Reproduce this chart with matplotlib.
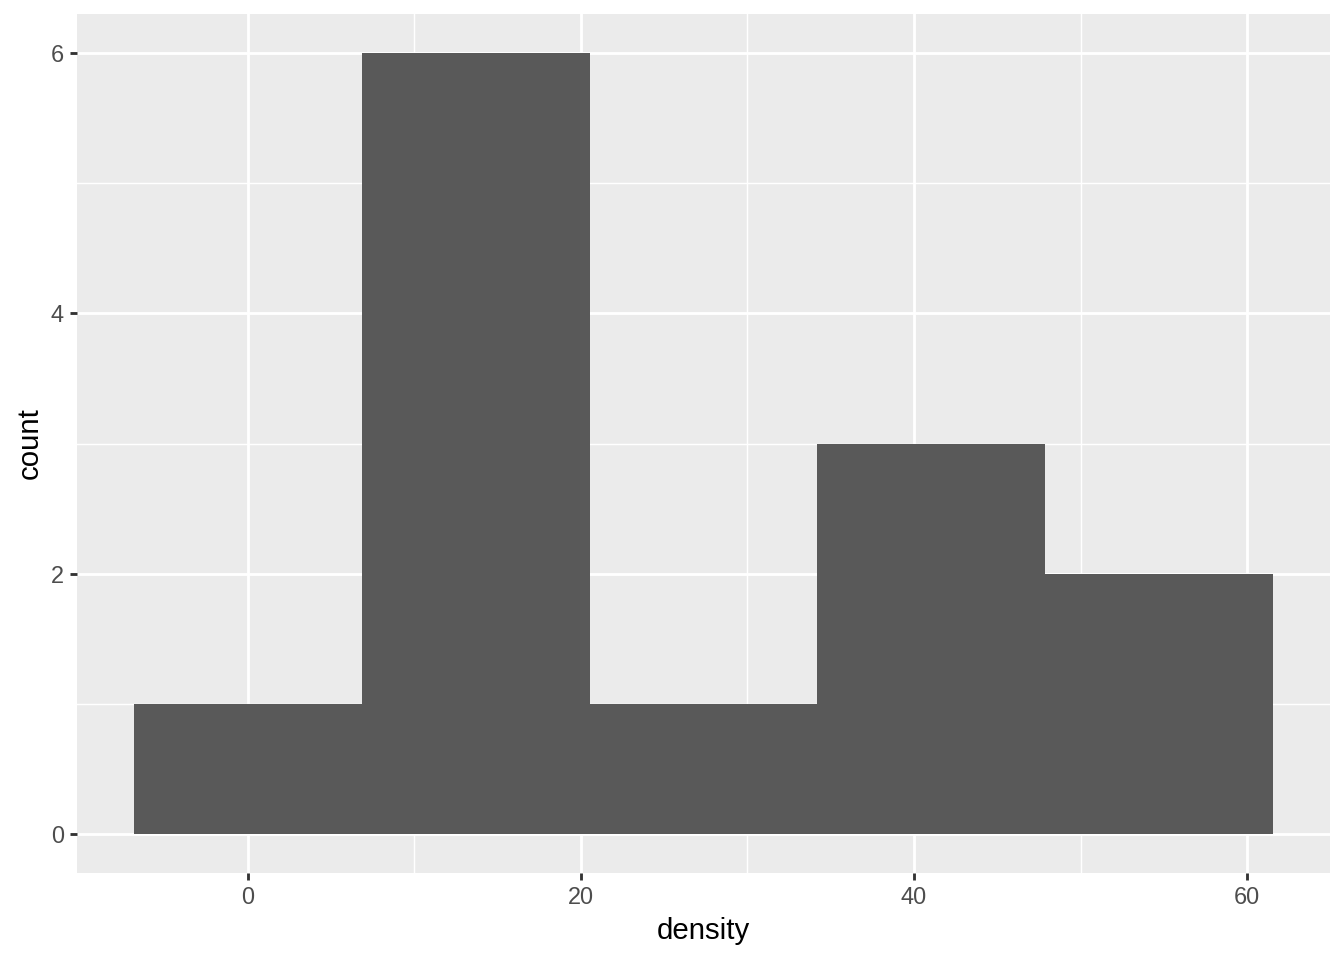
import matplotlib
matplotlib.use("Agg")
import matplotlib.pyplot as plt
import numpy as np

plt.rcParams['font.family'] = ['Liberation Sans', 'DejaVu Sans']

# Data
bin_edges = [-6.84, 6.84, 20.52, 34.2, 47.88, 61.56]
counts = [1, 6, 1, 3, 2]
x_ticks = [0, 20, 40, 60]
y_ticks = [0, 2, 4, 6]
x_label = "density"
y_label = "count"

W, H, DPI = 1344, 960, 192
fig = plt.figure(figsize=(W / DPI, H / DPI), dpi=DPI)
left, right, top, bottom = 77, 1330, 14, 873
ax = fig.add_axes([left / W, 1 - bottom / H, (right - left) / W, (bottom - top) / H])
ax.set_facecolor('#EBEBEB')

edges = np.array(bin_edges)
widths = np.diff(edges)
ax.bar(edges[:-1], counts, width=widths, align='edge', color='#595959', edgecolor='none', zorder=3)

xr = edges[-1] - edges[0]
ax.set_xlim(edges[0] - 0.05 * xr, edges[-1] + 0.05 * xr)
ymax = max(counts)
ax.set_ylim(-0.05 * ymax, ymax * 1.05)

ax.set_xticks(x_ticks)
ax.set_yticks(y_ticks)
ax.set_xticks([10, 30, 50], minor=True)
ax.set_yticks([1, 3, 5], minor=True)

ax.grid(which='major', color='white', linewidth=1.07, zorder=1)
ax.grid(which='minor', color='white', linewidth=0.53, zorder=1)
ax.set_axisbelow(True)
for s in ax.spines.values():
    s.set_visible(False)

ax.tick_params(which='major', length=2.75, width=1.07, color='#333333',
               labelsize=8.8, labelcolor='#4D4D4D', pad=2.2)
ax.tick_params(which='minor', length=0)

ax.set_xlabel(x_label, fontsize=11, color='black', labelpad=2.75)
ax.set_ylabel(y_label, fontsize=11, color='black', labelpad=2.75)

fig.savefig('out.png', dpi=DPI, facecolor='white')
